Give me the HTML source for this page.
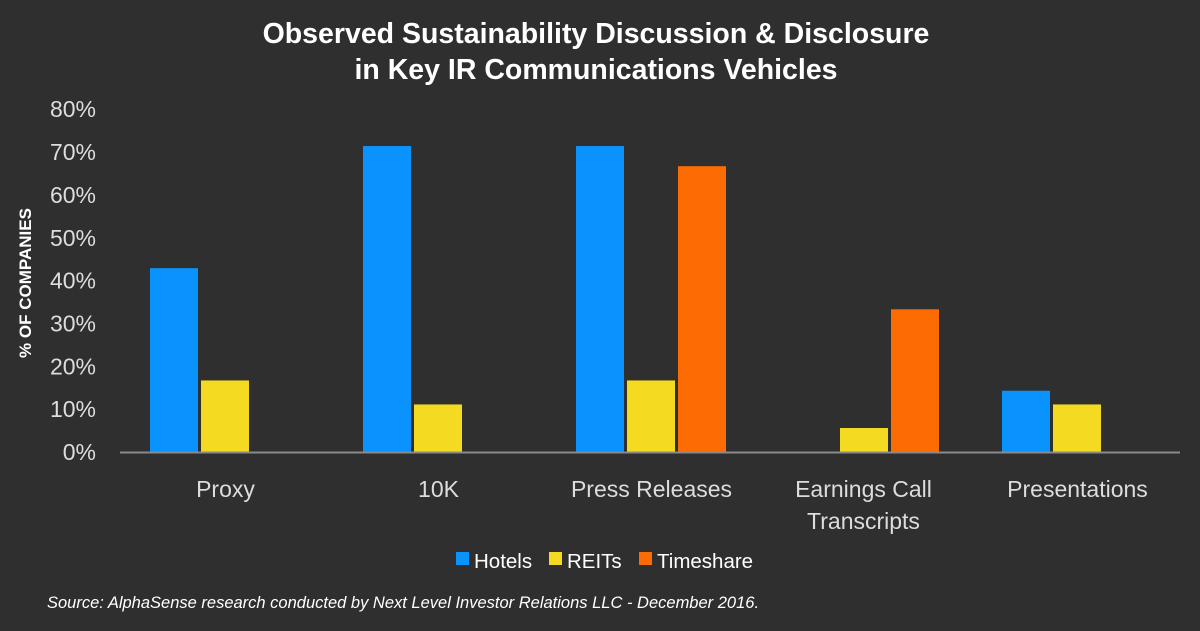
<!DOCTYPE html>
<html><head><meta charset="utf-8"><style>
body{margin:0;background:#2f2f2f;}
svg{display:block;font-family:"Liberation Sans",sans-serif;}
</style></head><body>
<svg id="chart" width="1200" height="631" viewBox="0 0 1200 631">
<rect width="1200" height="631" fill="#2f2f2f"/>
<text x="596" y="43" text-anchor="middle" fill="#fff" font-size="28.5" font-weight="bold">Observed Sustainability Discussion &amp; Disclosure</text>
<text x="596" y="79" text-anchor="middle" fill="#fff" font-size="28.5" font-weight="bold">in Key IR Communications Vehicles</text>
<text transform="translate(31,283) rotate(-90)" text-anchor="middle" fill="#fff" font-size="17" font-weight="bold">% OF COMPANIES</text>
<g id="yticks"></g>
<g id="bars"></g>
<line x1="120" y1="452.5" x2="1180" y2="452.5" stroke="#8a8a8a" stroke-width="2"/>
<g id="xlabels"></g>
<g id="legend"></g>
<text x="47" y="608" fill="#fff" font-size="16.5" font-style="italic">Source: AlphaSense research conducted by Next Level Investor Relations LLC - December 2016.</text>
</svg>
<script>
const categories=["Proxy","10K","Press Releases","Earnings Call|Transcripts","Presentations"];
const seriesNames=["Hotels","REITs","Timeshare"];
const hotels=[42.9,71.4,71.4,0,14.3];
const reits=[16.7,11.1,16.7,5.6,11.1];
const timeshare=[0,0,66.7,33.3,0];
const yTicks=[0,10,20,30,40,50,60,70,80];
const colors=["#0a93fc","#f5da22","#fd6c02"];
const NS="http://www.w3.org/2000/svg";
const y0=452,pxPer=42.85;
function yScale(v){return y0-v*pxPer/10;}
const catW=213,x0=119;
function xCat(i){return x0+i*catW;}
function mk(t,a,p){const e=document.createElementNS(NS,t);for(const k in a)e.setAttribute(k,a[k]);p.appendChild(e);return e;}
const yt=document.getElementById('yticks');
yTicks.forEach(v=>{const t=mk('text',{x:96,y:yScale(v)+8,'text-anchor':'end',fill:'#ddd','font-size':23},yt);


t.textContent=v+'%';});
const bg=document.getElementById('bars');
[hotels,reits,timeshare].forEach((s,si)=>{s.forEach((v,i)=>{if(v<=0)return;
const r=mk('rect',{x:xCat(i)+31+si*51,y:yScale(v),width:48,height:y0-yScale(v),fill:colors[si]},bg);

});});
const xl=document.getElementById('xlabels');
categories.forEach((c,i)=>{c.split('|').forEach((ln,j)=>{const t=mk('text',{x:xCat(i)+catW/2+(i==3?-1:0),y:497+j*32,'text-anchor':'middle',fill:'#ddd','font-size':23},xl);


t.textContent=ln;});});
const lg=document.getElementById('legend');
const lx=[456,549,639];
seriesNames.forEach((n,i)=>{const g=mk('g',{},lg);


mk('rect',{x:lx[i],y:552,width:13,height:13,fill:colors[i]},g);
const t=mk('text',{x:lx[i]+18,y:568,fill:'#fff','font-size':20.5},g);t.textContent=n;});
</script>
</body></html>
